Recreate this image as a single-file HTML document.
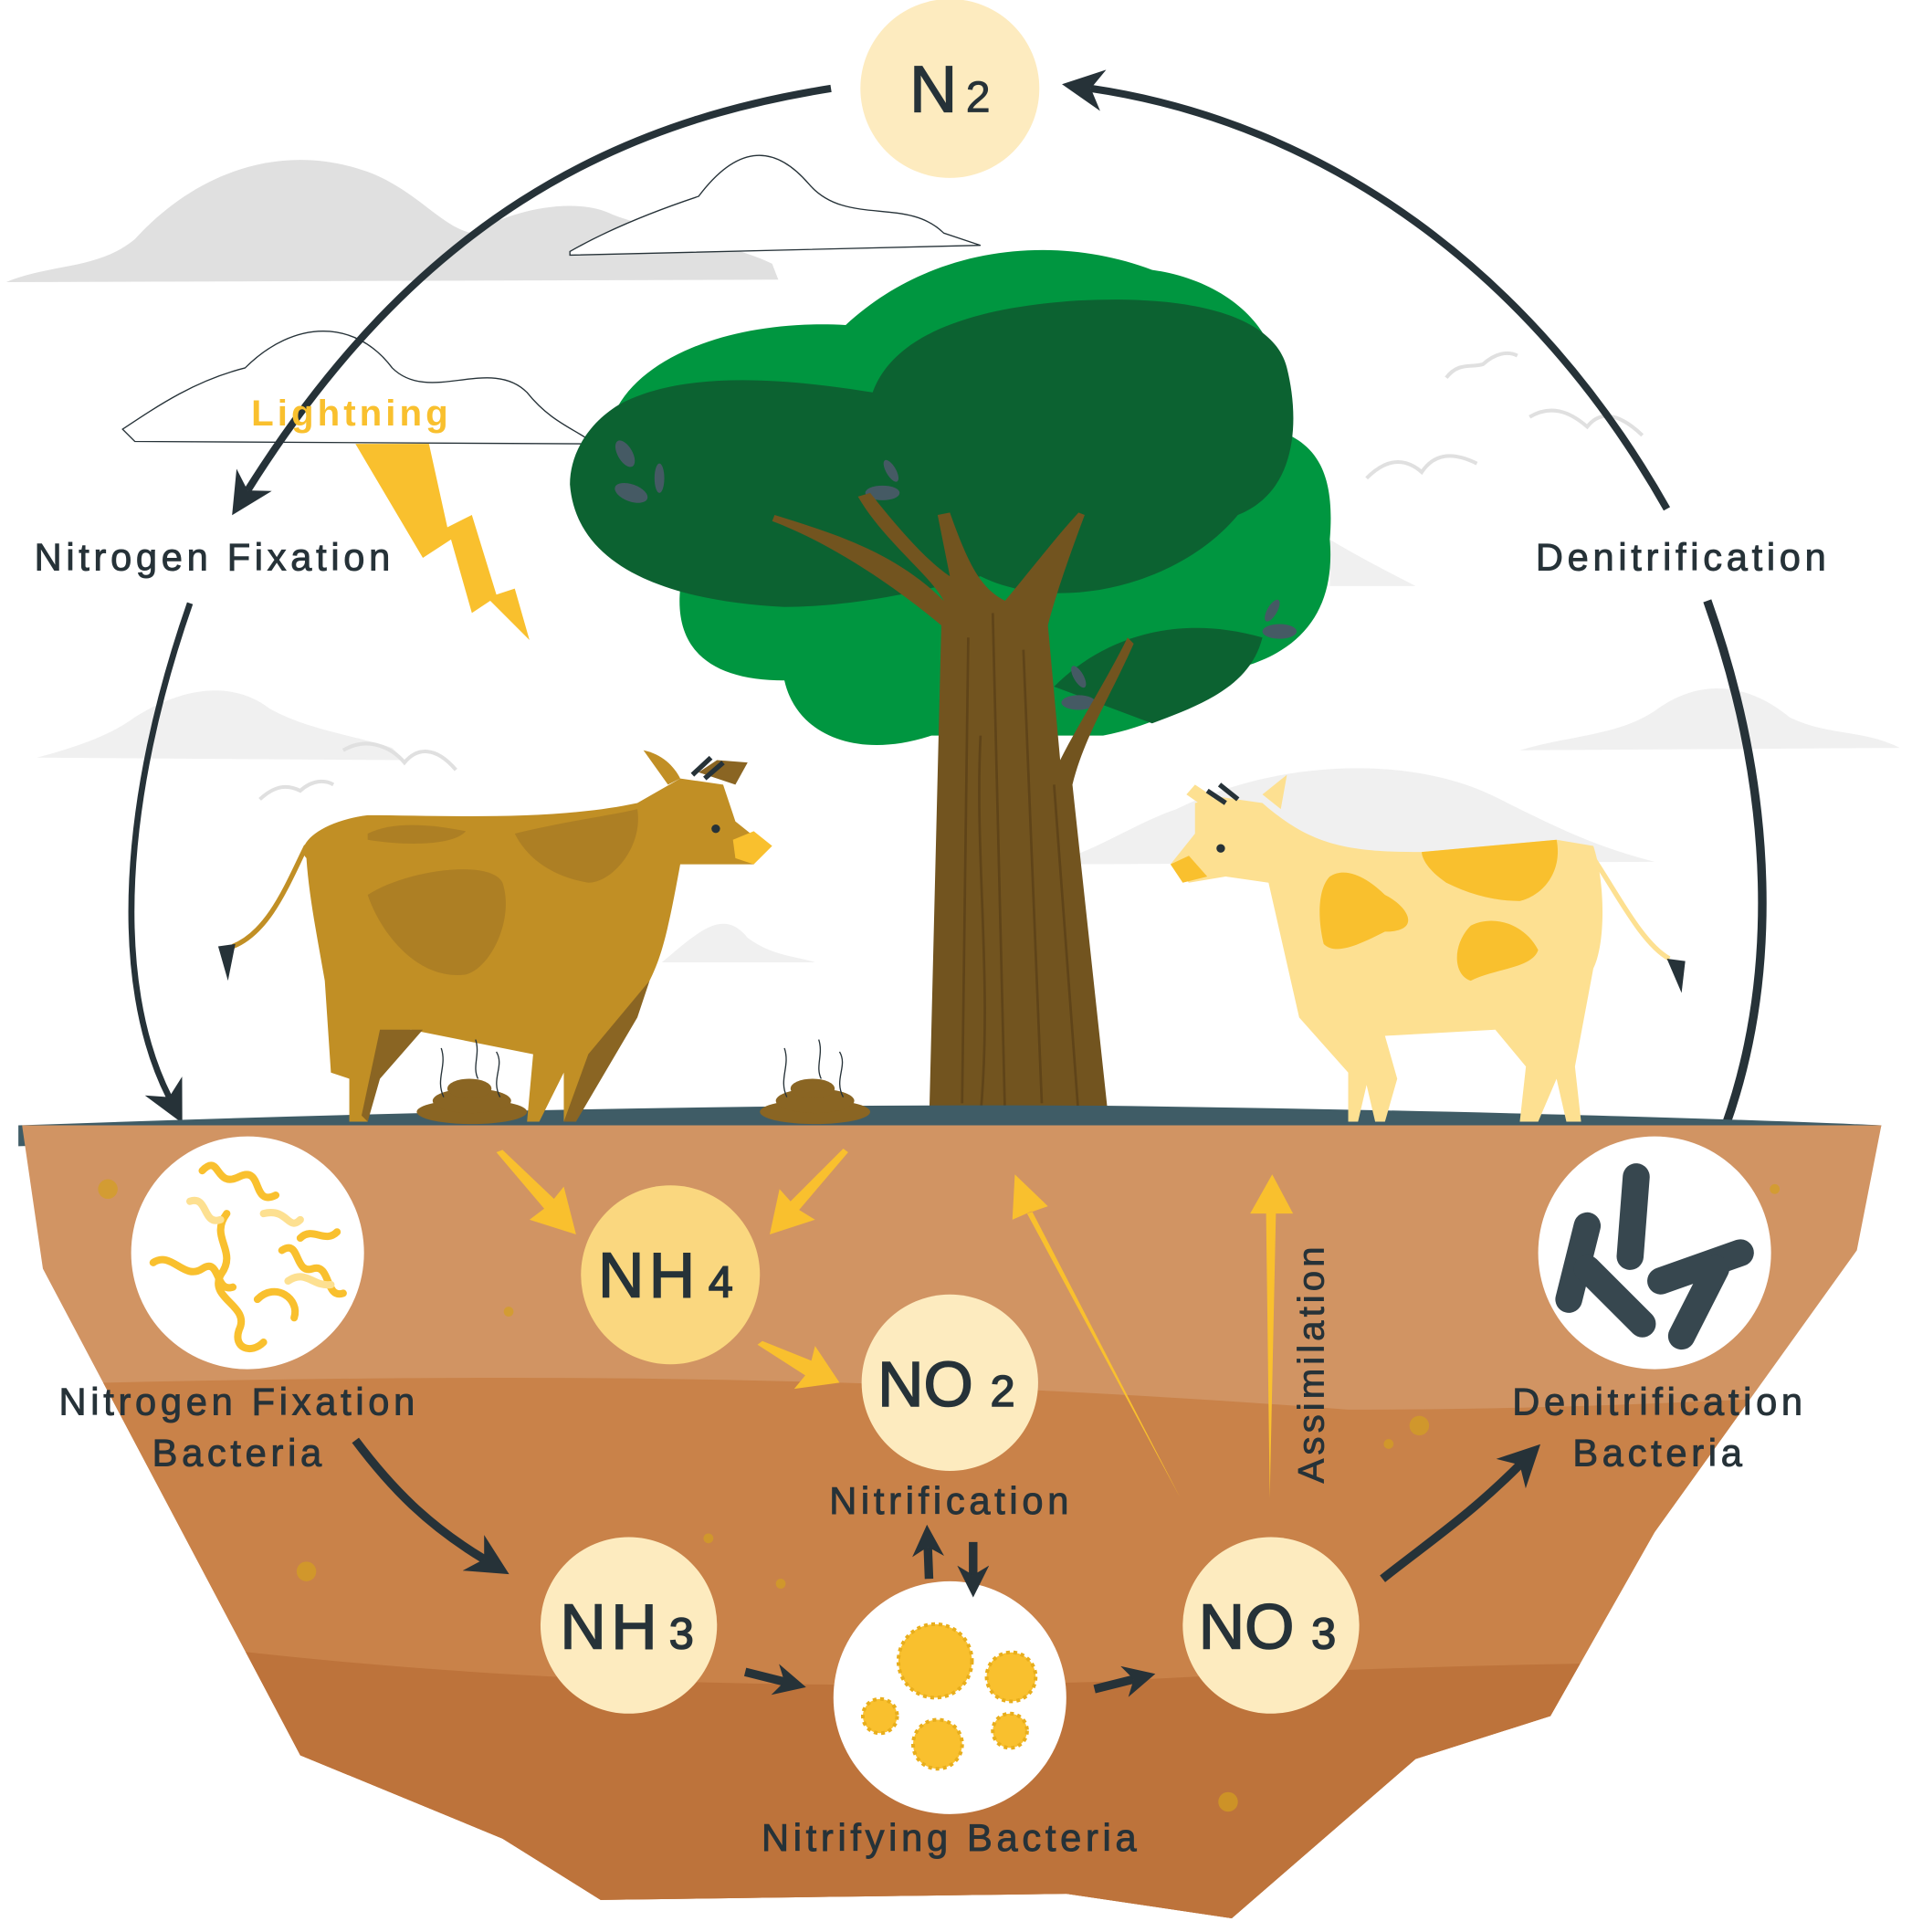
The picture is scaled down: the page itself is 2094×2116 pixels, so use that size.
<!DOCTYPE html>
<html><head><meta charset="utf-8"><style>
html,body{margin:0;padding:0;background:#fff;}
svg{display:block;}
text{font-family:"Liberation Sans","DejaVu Sans",sans-serif;}
</style></head><body>
<svg width="2094" height="2116" viewBox="0 0 1560 1576" xmlns="http://www.w3.org/2000/svg">
<defs>
<marker id="ah" viewBox="0 0 10 10" refX="3" refY="5" markerWidth="34" markerHeight="34" markerUnits="userSpaceOnUse" orient="auto"><path d="M0,0 L10,5 L0,10 L3,5 z" fill="#263238"/></marker>
<marker id="as" viewBox="0 0 10 10" refX="3" refY="5" markerWidth="26" markerHeight="26" markerUnits="userSpaceOnUse" orient="auto"><path d="M0,0 L10,5 L0,10 L3,5 z" fill="#263238"/></marker>
</defs>
<!-- clouds -->
<path d="M5,230 C40,215 80,220 110,195 C160,140 230,115 300,140 C340,155 360,185 385,190 C420,170 470,160 500,175 C540,190 600,200 630,215 L635,228 Z" fill="#e0e0e0"/>
<path d="M465,205 C500,185 540,170 570,160 C600,120 630,115 660,150 C690,185 740,160 770,190 L800,200 L465,208 Z" fill="#fff" stroke="#263238" stroke-width="1"/>
<path d="M100,350 C130,330 160,310 200,300 C240,260 290,260 320,300 C350,330 400,290 430,320 C450,345 470,350 485,362 L110,360 Z" fill="#fff" stroke="#263238" stroke-width="1"/>
<path d="M30,618 C60,610 90,600 110,585 C150,560 190,555 220,578 C250,595 290,600 320,610 L330,620 Z" fill="#f0f0f0"/>
<path d="M1240,612 C1280,600 1320,600 1350,580 C1390,550 1430,560 1460,585 C1490,600 1520,595 1550,610 Z" fill="#f0f0f0"/>
<path d="M870,700 C900,690 930,670 960,660 C1040,620 1150,615 1220,650 C1270,675 1300,690 1350,703 L870,705 Z" fill="#f0f0f0"/>
<path d="M540,785 C570,760 590,740 610,765 C630,780 650,780 665,785 Z" fill="#f0f0f0"/>
<path d="M1085,478 L1085,440 C1110,455 1130,465 1155,478 Z" fill="#f0f0f0"/>
<g fill="none" stroke="#e0e0e0" stroke-width="3">
<path d="M1180,308 C1190,295 1200,300 1210,297 C1220,288 1230,286 1238,290"/>
<path d="M1248,340 C1265,330 1280,335 1295,348 C1305,335 1320,336 1340,355"/>
<path d="M1115,390 C1130,375 1145,372 1160,385 C1170,370 1185,368 1205,378"/>
<path d="M280,612 C300,600 320,610 330,622 C340,610 355,608 372,628"/>
<path d="M212,652 C225,640 235,640 245,645 C255,636 265,636 272,640"/>
</g>
<!-- big arcs -->
<path d="M678,72 C500,100 340,180 202,400" fill="none" stroke="#263238" stroke-width="6" marker-end="url(#ah)"/>
<path d="M1360,415 C1250,220 1080,100 890,72" fill="none" stroke="#263238" stroke-width="6" marker-end="url(#ah)"/>
<path d="M155,492 C100,650 90,800 138,895" fill="none" stroke="#263238" stroke-width="5" marker-end="url(#ah)"/>
<path d="M1393,490 C1450,650 1450,800 1408,918" fill="none" stroke="#263238" stroke-width="7"/>
<!-- N2 -->
<circle cx="775" cy="72" r="73" fill="#fdebbf"/>
<text x="742" y="91" font-size="54" fill="#263238" stroke="#263238" stroke-width="1">N</text><text x="788" y="91" font-size="36" fill="#263238" stroke="#263238" stroke-width="0.6">2</text>
<!-- lightning -->
<text x="205" y="347" font-size="30" fill="#f9c02e" letter-spacing="3" font-weight="bold">Lightning</text>
<path d="M290,362 L350,362 L365,430 L385,420 L405,485 L420,480 L432,522 L400,490 L385,500 L368,440 L345,455 Z" fill="#f9c02e"/>
<g font-size="31" fill="#263238" letter-spacing="3.5" stroke="#263238" stroke-width="0.7">
<text x="28" y="465">Nitrogen Fixation</text>
<text x="1253" y="465">Denitrification</text>
</g>
<!-- tree canopy -->
<path d="M555,480 C550,530 580,555 640,555 C650,600 700,620 760,600 L900,600 C950,590 980,570 985,550 C1060,540 1090,500 1085,440 C1090,380 1070,360 1040,350 C1060,280 1010,230 940,220 C860,190 760,200 690,265 C600,260 520,290 500,340 Z" fill="#009640"/>
<path d="M465,395 C470,460 540,490 640,495 C700,495 760,480 800,470 C860,500 960,480 1010,420 C1060,400 1060,340 1050,300 C1040,260 980,240 880,245 C800,250 730,270 712,320 C650,310 560,300 505,330 C480,345 465,370 465,395 Z" fill="#0c6231"/>
<path d="M860,560 C900,520 960,500 1030,520 C1020,560 980,575 940,590 Z" fill="#0c6231"/>
<g fill="#455a64">
<ellipse cx="515" cy="402" rx="14" ry="7" transform="rotate(20 515 402)"/>
<ellipse cx="510" cy="370" rx="6" ry="12" transform="rotate(-30 510 370)"/>
<ellipse cx="538" cy="390" rx="4" ry="12"/>
<ellipse cx="720" cy="402" rx="14" ry="6"/>
<ellipse cx="727" cy="384" rx="4" ry="10" transform="rotate(-30 727 384)"/>
<ellipse cx="1044" cy="515" rx="14" ry="6"/>
<ellipse cx="1038" cy="498" rx="4" ry="10" transform="rotate(30 1038 498)"/>
<ellipse cx="880" cy="573" rx="14" ry="6"/>
<ellipse cx="880" cy="552" rx="4" ry="10" transform="rotate(-30 880 552)"/>
</g>
<!-- trunk -->
<path d="M770,490 C760,470 720,440 700,405 L710,402 C740,440 760,460 775,470 L765,420 L775,418 C790,460 800,480 820,490 C845,460 860,440 880,418 L885,420 C870,460 860,490 855,510 L865,620 C880,590 900,560 920,520 L925,525 C905,570 885,600 875,640 L905,918 L758,918 L768,510 C720,470 670,440 630,425 L632,420 C680,435 730,450 770,490 Z" fill="#72541f"/>
<g stroke="#5f4419" stroke-width="2" fill="none">
<path d="M790,520 L785,900"/><path d="M810,500 L820,910"/><path d="M835,530 L850,900"/><path d="M800,600 C795,700 810,800 800,910"/><path d="M860,640 L880,910"/>
</g>
<!-- ground strip -->
<path d="M15,918 C300,908 600,900 900,902 C1150,905 1400,912 1535,918 L1530,935 C1300,932 1000,930 700,930 C400,930 200,930 15,935 Z" fill="#3f5c66"/>
<!-- soil -->
<clipPath id="soil"><path d="M18,918 L1535,918 L1515,1020 L1350,1250 L1265,1400 L1155,1435 L1005,1565 L870,1545 L490,1550 L410,1500 L245,1432 L35,1035 Z"/></clipPath>
<g clip-path="url(#soil)">
<rect x="0" y="918" width="1560" height="700" fill="#d19463"/>
<path d="M0,1130 C400,1120 700,1120 1100,1150 C1300,1150 1450,1140 1560,1135 L1560,1600 L0,1600 Z" fill="#c98249"/>
<path d="M0,1320 C300,1370 600,1380 900,1372 C1100,1360 1300,1355 1560,1355 L1560,1600 L0,1600 Z" fill="#bd733b"/>
</g>
<g fill="#d4a020" opacity="0.7">
<circle cx="88" cy="970" r="8"/><circle cx="1158" cy="1163" r="8"/><circle cx="250" cy="1282" r="8"/><circle cx="1002" cy="1470" r="8"/>
<circle cx="415" cy="1070" r="4"/><circle cx="1133" cy="1178" r="4"/><circle cx="1448" cy="970" r="4"/><circle cx="578" cy="1255" r="4"/><circle cx="637" cy="1292" r="4"/>
</g>
<!-- cows -->
<g>
<path d="M250,700 C240,690 260,670 300,665 C360,665 450,670 520,655 L555,635 L590,640 L600,670 L625,690 L615,705 L555,705 C545,760 540,780 530,800 L480,870 L470,915 L460,915 L460,875 L440,915 L430,915 L435,860 L335,840 L310,870 L300,915 L285,915 L285,880 L270,875 L265,800 C258,760 252,730 250,700 Z" fill="#c18f25"/>
<path d="M300,680 C320,670 350,672 380,678 C370,690 330,690 300,685 Z" fill="#ad7f24"/>
<path d="M300,730 C330,710 400,700 410,720 C420,750 400,790 380,795 C340,800 310,760 300,730 Z" fill="#ad7f24"/>
<path d="M420,680 C460,670 500,665 520,660 C525,690 500,720 480,720 C450,715 430,700 420,680 Z" fill="#ad7f24"/>
<path d="M480,860 L530,800 L520,830 L470,915 L460,915 Z M310,840 L345,840 L310,880 L300,915 L295,910 Z" fill="#8a6523"/>
<path d="M250,690 C235,720 220,760 190,772" fill="none" stroke="#c18f25" stroke-width="4"/>
<path d="M178,772 L192,770 L186,800 Z" fill="#263238"/>
<path d="M525,612 C540,615 550,625 555,635 L545,640 Z" fill="#c18f25"/>
<path d="M570,630 L585,620 L610,622 L600,640 Z" fill="#8a6523"/>
<path d="M565,632 L580,618 M575,635 L590,622" stroke="#263238" stroke-width="4"/>
<path d="M598,685 L615,678 L630,690 L615,705 L600,700 Z" fill="#f9c02e"/>
<circle cx="584" cy="676" r="3.5" fill="#263238"/>
</g>
<g>
<path d="M1300,690 C1310,720 1310,770 1300,790 L1285,870 L1290,915 L1278,915 L1270,880 L1255,915 L1240,915 L1245,870 L1220,840 L1130,845 L1140,880 L1130,915 L1122,915 L1115,885 L1108,915 L1100,915 L1100,875 L1060,830 L1035,720 L1000,715 L970,720 L955,705 L975,680 L975,655 L995,650 L1030,655 C1070,690 1100,695 1160,695 L1270,685 Z" fill="#fde091"/>
<path d="M1160,695 L1270,685 C1275,710 1260,730 1240,735 C1220,735 1200,730 1180,720 C1165,710 1160,700 1160,695 Z" fill="#f9c02e"/>
<path d="M1085,715 C1100,705 1120,720 1130,730 C1150,740 1160,760 1130,760 C1110,770 1090,780 1080,770 C1075,750 1075,725 1085,715 Z" fill="#f9c02e"/>
<path d="M1200,755 C1220,745 1245,755 1255,775 C1250,790 1220,790 1200,800 C1185,795 1185,770 1200,755 Z" fill="#f9c02e"/>
<path d="M1300,700 C1320,730 1340,770 1362,782" fill="none" stroke="#fde091" stroke-width="4"/>
<path d="M1360,782 L1375,784 L1372,810 Z" fill="#263238"/>
<path d="M1030,648 L1050,632 L1045,660 Z" fill="#fde091"/>
<path d="M990,650 L975,640 L968,648 L985,660 Z" fill="#fde091"/>
<path d="M985,645 L1000,655 M995,640 L1010,652" stroke="#263238" stroke-width="4"/>
<path d="M970,698 L955,705 L965,720 L985,715 Z" fill="#f9c02e"/>
<circle cx="996" cy="692" r="3.5" fill="#263238"/>
</g>
<!-- poop -->
<g fill="#8a6523">
<ellipse cx="385" cy="907" rx="45" ry="10"/><ellipse cx="385" cy="898" rx="32" ry="10"/><ellipse cx="383" cy="888" rx="18" ry="8"/>
<ellipse cx="665" cy="907" rx="45" ry="10"/><ellipse cx="665" cy="898" rx="32" ry="10"/><ellipse cx="663" cy="888" rx="18" ry="8"/>
</g>
<g stroke="#263238" fill="none" stroke-width="1">
<path d="M362,895 C355,880 365,870 360,855"/><path d="M390,880 C385,870 392,860 388,848"/><path d="M408,895 C400,880 412,870 405,858"/>
<path d="M642,895 C635,880 645,870 640,855"/><path d="M670,880 C665,870 672,860 668,848"/><path d="M688,895 C680,880 692,870 685,858"/>
</g>
<!-- yellow arrows -->
<g fill="#f9c02e">
<path d="M405,940 L410,938 L452,978 L460,968 L470,1007 L432,995 L444,986 Z"/>
<path d="M692,940 L688,937 L645,980 L636,970 L628,1007 L665,995 L652,987 Z"/>
<path d="M618,1097 L622,1094 L662,1110 L665,1098 L685,1128 L648,1133 L657,1122 Z"/>
<path d="M963,1222 L838,990 L855,984 L828,958 L826,995 L842,988 Z"/>
<path d="M1036,1222 L1033,990 L1055,990 L1038,958 L1020,990 L1041,990 Z"/>
</g>
<text transform="translate(1080,1210) rotate(-90)" font-size="30" fill="#263238" letter-spacing="3" stroke="#263238" stroke-width="0.6">Assimilation</text>
<!-- circles -->
<circle cx="202" cy="1022" r="95" fill="#fff"/>
<g fill="none" stroke="#f9c02e" stroke-width="6" stroke-linecap="round">
<path d="M165,955 C180,940 175,970 195,960 C215,950 205,985 225,975"/>
<path d="M125,1030 C140,1020 150,1045 165,1035 C180,1025 175,1055 190,1050"/>
<path d="M185,990 C170,1010 195,1020 180,1040 C170,1060 205,1065 195,1085 C190,1100 205,1105 215,1095"/>
<path d="M230,1020 C245,1010 240,1040 255,1035 C270,1030 265,1060 280,1055"/>
<path d="M210,1060 C225,1045 245,1060 240,1075"/>
<path d="M245,1010 C255,1000 265,1015 275,1005"/>
</g>
<g fill="none" stroke="#fde091" stroke-width="6" stroke-linecap="round">
<path d="M155,980 C170,975 165,1000 180,995"/><path d="M215,990 C235,985 235,1005 245,995"/><path d="M235,1045 C250,1035 255,1050 270,1048"/>
</g>
<circle cx="1350" cy="1022" r="95" fill="#fff"/>
<g stroke="#37474f" stroke-width="22" stroke-linecap="round">
<line x1="1335" y1="960" x2="1330" y2="1025"/>
<line x1="1295" y1="1000" x2="1280" y2="1060"/>
<line x1="1295" y1="1035" x2="1340" y2="1080"/>
<line x1="1355" y1="1045" x2="1420" y2="1022"/>
<line x1="1400" y1="1035" x2="1372" y2="1090"/>
</g>
<circle cx="775" cy="1385" r="95" fill="#fff"/>
<g fill="#f9c02e" stroke="#e8ae1c" stroke-width="3" stroke-dasharray="3 3">
<circle cx="763" cy="1355" r="30"/><circle cx="825" cy="1368" r="20"/><circle cx="765" cy="1423" r="20"/><circle cx="718" cy="1400" r="14"/><circle cx="824" cy="1412" r="14"/>
</g>
<circle cx="547" cy="1040" r="73" fill="#fad77f"/>
<circle cx="775" cy="1128" r="72" fill="#fdebbf"/>
<circle cx="513" cy="1326" r="72" fill="#fdebbf"/>
<circle cx="1037" cy="1326" r="72" fill="#fdebbf"/>
<g fill="#263238" font-size="52" stroke="#263238" stroke-width="1.2">
<text x="488" y="1058" letter-spacing="4">NH</text><text x="578" y="1058" font-size="36">4</text>
<text x="716" y="1147">NO</text><text x="808" y="1147" font-size="36">2</text>
<text x="457" y="1345" letter-spacing="4">NH</text><text x="546" y="1345" font-size="36">3</text>
<text x="978" y="1345">NO</text><text x="1070" y="1345" font-size="36">3</text>
</g>
<g font-size="31" fill="#263238" letter-spacing="3.5" stroke="#263238" stroke-width="0.7">
<text x="195" y="1154" text-anchor="middle">Nitrogen Fixation</text>
<text x="195" y="1196" text-anchor="middle">Bacteria</text>
<text x="1354" y="1154" text-anchor="middle">Denitrification</text>
<text x="1354" y="1196" text-anchor="middle">Bacteria</text>
<text x="776" y="1235" text-anchor="middle">Nitrification</text>
<text x="776" y="1510" text-anchor="middle">Nitrifying Bacteria</text>
</g>
<!-- dark arrows -->
<g fill="none" stroke="#263238" stroke-width="7">
<path d="M290,1175 C320,1215 350,1245 395,1272" marker-end="url(#ah)"/>
<path d="M1128,1288 C1170,1255 1200,1235 1240,1195" marker-end="url(#ah)"/>
<path d="M608,1364 L640,1372" marker-end="url(#as)"/>
<path d="M893,1378 L925,1370" marker-end="url(#as)"/>
<path d="M758,1288 L757,1262" marker-end="url(#as)"/>
<path d="M794,1258 L794,1285" marker-end="url(#as)"/>
</g>
</svg>
</body></html>
